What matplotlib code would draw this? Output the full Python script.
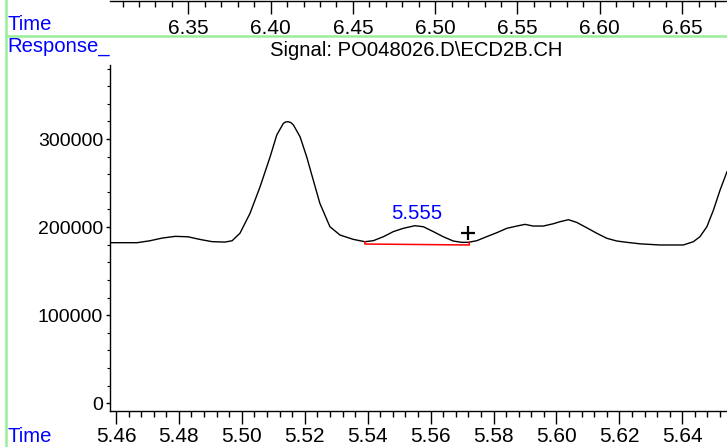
import matplotlib
matplotlib.use("Agg")
import matplotlib.pyplot as plt
from matplotlib.ticker import MultipleLocator, FixedLocator
from matplotlib.lines import Line2D

plt.rcParams['font.family'] = ['Liberation Sans', 'DejaVu Sans']

# ---- data ----
time = [5.4581, 5.4629, 5.4667, 5.4708, 5.4746, 5.4788, 5.4829, 5.4867, 5.4905,
        5.4946, 5.4969, 5.4994, 5.5026, 5.5058, 5.5090, 5.5111, 5.5132, 5.5140,
        5.5148, 5.5156, 5.5164, 5.5185, 5.5206, 5.5227, 5.5248, 5.5280, 5.5312,
        5.5354, 5.5391, 5.5418, 5.5450, 5.5481, 5.5513, 5.5550, 5.5577, 5.5609,
        5.5640, 5.5672, 5.5699, 5.5720, 5.5747, 5.5778, 5.5810, 5.5842, 5.5874,
        5.5900, 5.5926, 5.5958, 5.5990, 5.6011, 5.6038, 5.6064, 5.6096, 5.6128,
        5.6160, 5.6192, 5.6224, 5.6266, 5.6329, 5.6403, 5.6435, 5.6456, 5.6478,
        5.6499, 5.6520, 5.6542]
response = [182300, 182300, 182300, 184500, 187500, 189500, 189000, 186000, 183500,
            183000, 184500, 193000, 215600, 245800, 279900, 304500, 317800, 319400,
            319600, 318600, 315900, 302600, 279900, 253400, 227000, 200400, 191000,
            186100, 183400, 184600, 189100, 194800, 198600, 201600, 200400, 194800,
            189100, 184200, 182700, 182700, 184600, 189100, 193600, 198600, 201200,
            203100, 201200, 201200, 203800, 206100, 208400, 205400, 199300, 193000,
            187300, 184200, 182700, 181000, 179700, 179700, 183400, 189100, 200400,
            219400, 242100, 262900]

baseline_t = [5.5391, 5.5391, 5.5723, 5.5723]
baseline_v = [183400, 180800, 179700, 182700]

peak_label = "5.555"
peak_t = 5.5556
peak_label_v = 215600
marker_t = 5.5718
marker_v = 193600

bottom_ticks = [5.46, 5.48, 5.50, 5.52, 5.54, 5.56, 5.58, 5.60, 5.62, 5.64]
bottom_labels = ["5.46", "5.48", "5.50", "5.52", "5.54", "5.56", "5.58", "5.60", "5.62", "5.64"]
top_ticks = [6.35, 6.40, 6.45, 6.50, 6.55, 6.60, 6.65]
top_labels = ["6.35", "6.40", "6.45", "6.50", "6.55", "6.60", "6.65"]
y_ticks = [0, 100000, 200000, 300000]
y_labels = ["0", "100000", "200000", "300000"]

title = "Signal: PO048026.D\\ECD2B.CH"

W, H = 727, 447
fig = plt.figure(figsize=(W / 100, H / 100), dpi=100)

def fx(px):
    return px / W

def fy(py):
    return 1 - py / H

FS = 14
FSX = 15
FSL = 14.6
BLUE = '#0000ff'
GREEN = '#99ee99'

# ---- main axes ----
ax = fig.add_axes([fx(110), fy(411), fx(727) - fx(110), fy(65) - fy(411)])
ax.plot(time, response, color='black', lw=1.0)
ax.plot(baseline_t, baseline_v, color='#ff0000', lw=1.1)
ax.plot([marker_t], [marker_v], marker='+', color='black', ms=10, mew=1.6)
ax.text(peak_t, peak_label_v, peak_label, color=BLUE, fontsize=FSL,
        ha='center', va='center')
ax.set_xlim(5.4581, 5.6542)
ax.set_ylim(-8740, 384000)
for s in ['top', 'right']:
    ax.spines[s].set_visible(False)
ax.spines['left'].set_linewidth(1.0)
ax.spines['bottom'].set_linewidth(1.0)
ax.xaxis.set_major_locator(FixedLocator(bottom_ticks))
ax.set_xticklabels(bottom_labels)
ax.xaxis.set_minor_locator(MultipleLocator(0.004))
ax.yaxis.set_major_locator(FixedLocator(y_ticks))
ax.set_yticklabels(y_labels)
ax.yaxis.set_minor_locator(MultipleLocator(20000))
ax.tick_params(axis='x', which='major', length=9, width=1, labelsize=FSX, pad=2.5)
ax.tick_params(axis='x', which='minor', length=4.5, width=1)
ax.tick_params(axis='y', which='major', length=3, width=1, labelsize=FS, pad=2)
ax.tick_params(axis='y', which='minor', length=2, width=0.8)

# ---- top strip axes (previous panel's time axis) ----
ax2 = fig.add_axes([fx(110), fy(1), fx(727) - fx(110), 0.0001])
ax2.set_xlim(6.3024, 6.6773)
ax2.set_ylim(0, 1)
for s in ['top', 'right', 'left']:
    ax2.spines[s].set_visible(False)
ax2.spines['bottom'].set_linewidth(1.0)
ax2.set_yticks([])
ax2.xaxis.set_major_locator(FixedLocator(top_ticks))
ax2.set_xticklabels(top_labels)
ax2.xaxis.set_minor_locator(MultipleLocator(0.01))
ax2.tick_params(axis='x', which='major', length=9.5, width=1, labelsize=FSX, pad=3.5)
ax2.tick_params(axis='x', which='minor', length=4.5, width=1)
ax2.patch.set_visible(False)

# ---- frame lines and labels ----
fig.add_artist(Line2D([fx(6), fx(6)], [0, 1], color=GREEN, lw=1.8))
fig.add_artist(Line2D([fx(6), 1], [fy(36), fy(36)], color=GREEN, lw=1.8))

fig.text(fx(7), fy(25), "Time", color=BLUE, fontsize=FSL, ha='left', va='center')
fig.text(fx(7), fy(46), "Response_", color=BLUE, fontsize=FSL, ha='left', va='center')
fig.text(fx(7), fy(436), "Time", color=BLUE, fontsize=FSL, ha='left', va='center')
fig.text(fx(416), fy(50), title, color='black', fontsize=FSL, ha='center', va='center')

fig.savefig("out.png", dpi=100)
